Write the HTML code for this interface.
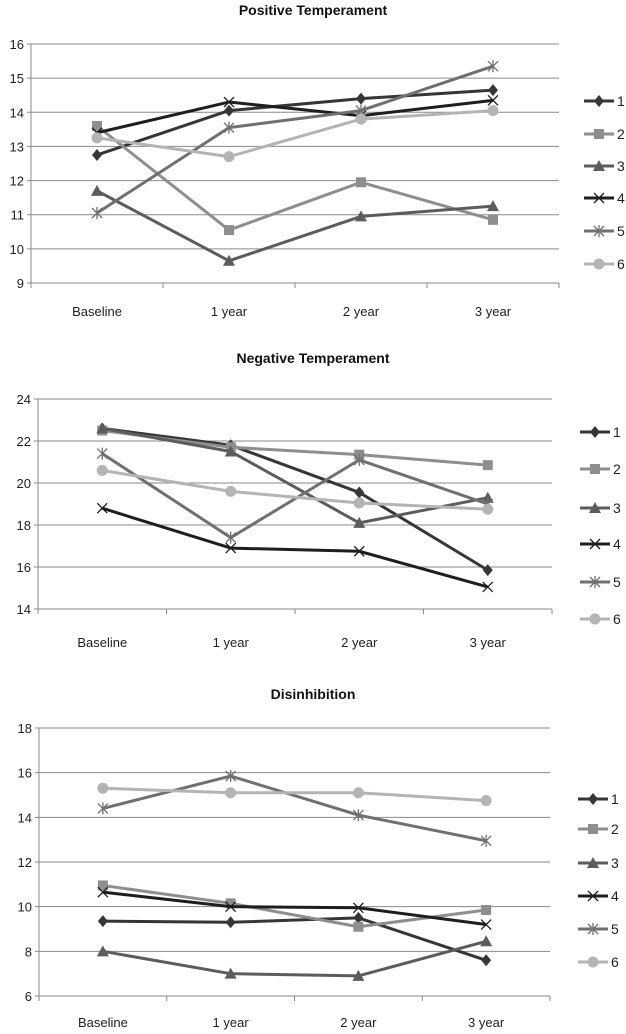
<!DOCTYPE html>
<html><head><meta charset="utf-8"><style>
html,body{margin:0;padding:0;background:#fff;}
svg{display:block;font-family:"Liberation Sans",sans-serif;}
</style></head><body>
<svg id="svg" width="626" height="1034" viewBox="0 0 626 1034"></svg>
<script>
const categories = ["Baseline","1 year","2 year","3 year"];
const seriesNames = ["1","2","3","4","5","6"];
const colors = ["#363636","#8e8e8e","#5c5c5c","#1e1e1e","#707070","#b4b4b4"];
const markers = ["diamond","square","triangle","x","star","circle"];
const posTicks = [9,10,11,12,13,14,15,16];
const negTicks = [14,16,18,20,22,24];
const disTicks = [6,8,10,12,14,16,18];
const pos1 = [12.75,14.05,14.4,14.65];
const pos2 = [13.6,10.55,11.95,10.85];
const pos3 = [11.7,9.65,10.95,11.25];
const pos4 = [13.4,14.3,13.9,14.35];
const pos5 = [11.05,13.55,14.05,15.35];
const pos6 = [13.25,12.7,13.8,14.05];
const neg1 = [22.6,21.8,19.55,15.85];
const neg2 = [22.5,21.7,21.35,20.85];
const neg3 = [22.6,21.5,18.1,19.3];
const neg4 = [18.8,16.9,16.75,15.05];
const neg5 = [21.4,17.4,21.1,19.0];
const neg6 = [20.6,19.6,19.05,18.75];
const dis1 = [9.35,9.3,9.5,7.6];
const dis2 = [10.95,10.15,9.1,9.85];
const dis3 = [8.0,7.0,6.9,8.45];
const dis4 = [10.65,10.0,9.95,9.2];
const dis5 = [14.4,15.85,14.1,12.95];
const dis6 = [15.3,15.1,15.1,14.75];

const svg = document.getElementById('svg');
const NS = "http://www.w3.org/2000/svg";
function mk(tag, attrs, parent){
  const e = document.createElementNS(NS, tag);
  for (const k in attrs) e.setAttribute(k, attrs[k]);
  (parent||svg).appendChild(e);
  return e;
}
function marker(g, type, x, y, c){
  let e;
  if(type==="diamond"){ e=mk('polygon',{points:`${x},${y-6} ${x+5},${y} ${x},${y+6} ${x-5},${y}`,fill:c},g); }
  else if(type==="square"){ e=mk('rect',{x:x-5,y:y-5,width:10,height:10,fill:c},g); }
  else if(type==="triangle"){ e=mk('polygon',{points:`${x},${y-6} ${x+6},${y+5} ${x-6},${y+5}`,fill:c},g); }
  else if(type==="circle"){ e=mk('circle',{cx:x,cy:y,r:5.5,fill:c},g); }
  else if(type==="x"){ e=mk('path',{d:`M${x-5} ${y-5}L${x+5} ${y+5}M${x+5} ${y-5}L${x-5} ${y+5}`,stroke:c,'stroke-width':1.3,fill:'none'},g); }
  else { e=mk('path',{d:`M${x-5} ${y-5}L${x+5} ${y+5}M${x+5} ${y-5}L${x-5} ${y+5}M${x} ${y-6}L${x} ${y+6}`,stroke:c,'stroke-width':1.3,fill:'none'},g); }
  
  
}
function chart(cfg){
  const g = mk('g',{});
  
  
  const t = mk('text',{x:cfg.titleX,y:cfg.titleY,'font-size':14,'font-weight':'bold','text-anchor':'middle',fill:'#111'},g);
  t.textContent = cfg.title;
  
  
  const ticks = cfg.ticks, lo = ticks[0], hi = ticks[ticks.length-1];
  const yS = v => cfg.yBot - (v-lo)/(hi-lo)*(cfg.yBot-cfg.yTop);
  const band = (cfg.x1-cfg.x0)/categories.length;
  const xS = i => cfg.x0 + band*(i+0.5);
  ticks.forEach(v=>{
    const l = mk('line',{x1:cfg.x0-4,x2:cfg.x1,y1:yS(v),y2:yS(v),stroke:'#8a8a8a','stroke-width':1},g);
    
    
    const tx = mk('text',{x:cfg.x0-7,y:yS(v)+5,'font-size':13,'text-anchor':'end',fill:'#222'},g);
    tx.textContent = v;
    
    
  });
  const ax = mk('line',{x1:cfg.x0,x2:cfg.x0,y1:cfg.yTop,y2:cfg.yBot+5,stroke:'#8a8a8a'},g);
  
  
  for(let i=0;i<=categories.length;i++){
    const x = cfg.x0+band*i;
    const tk = mk('line',{x1:x,x2:x,y1:cfg.yBot,y2:cfg.yBot+5,stroke:'#8a8a8a'},g);
    
    
  }
  categories.forEach((c,i)=>{
    const tx = mk('text',{x:xS(i),y:cfg.labelY,'font-size':13,'text-anchor':'middle',fill:'#222'},g);
    tx.textContent = c;
    
    
  });
  cfg.series.forEach((vals,s)=>{
    const sg = mk('g',{},g);
    
    
    const p = mk('polyline',{points:vals.map((v,i)=>xS(i)+','+yS(v)).join(' '),fill:'none',stroke:colors[s],'stroke-width':3,'stroke-linejoin':'round'},sg);
    
    
    vals.forEach((v,i)=>marker(sg,markers[s],xS(i),yS(v),colors[s]));
  });
  cfg.legendY.forEach((y,s)=>{
    const lg = mk('g',{},g);
    
    
    mk('line',{x1:cfg.legX,x2:cfg.legX+30,y1:y,y2:y,stroke:colors[s],'stroke-width':3},lg);
    marker(lg,markers[s],cfg.legX+15,y,colors[s]);
    const tx = mk('text',{x:cfg.legX+33,y:y+5,'font-size':14,fill:'#222'},lg);
    tx.textContent = seriesNames[s];
  });
}
chart({name:'positive-temperament-chart',title:'Positive Temperament',titleX:313,titleY:15,
  ticks:posTicks,yTop:44,yBot:283,x0:31,x1:559,labelY:316,
  series:[pos1,pos2,pos3,pos4,pos5,pos6],legX:584,legendY:[101,134,166,198,231,264]});
chart({name:'negative-temperament-chart',title:'Negative Temperament',titleX:313,titleY:363,
  ticks:negTicks,yTop:399,yBot:609,x0:38,x1:552,labelY:647,
  series:[neg1,neg2,neg3,neg4,neg5,neg6],legX:580,legendY:[432,469,508,544,582,619]});
chart({name:'disinhibition-chart',title:'Disinhibition',titleX:313,titleY:699,
  ticks:disTicks,yTop:728,yBot:996,x0:39,x1:550,labelY:1027,
  series:[dis1,dis2,dis3,dis4,dis5,dis6],legX:578,legendY:[799,829,863,896,929,962]});
</script>
</body></html>
